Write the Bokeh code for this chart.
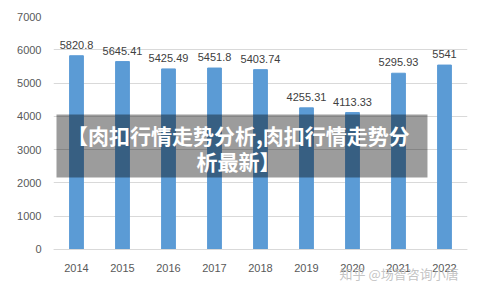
from bokeh.plotting import figure
from bokeh.models import Range1d, FixedTicker, ColumnDataSource, BoxAnnotation, Label
from bokeh.embed import file_html
from bokeh.resources import INLINE
from bokeh.core.properties import value

years = ["2014", "2015", "2016", "2017", "2018", "2019", "2020", "2021", "2022"]
prices = [5820.8, 5645.41, 5425.49, 5451.8, 5403.74, 4255.31, 4113.33, 5295.93, 5541]
price_labels = ["5820.8", "5645.41", "5425.49", "5451.8", "5403.74", "4255.31", "4113.33", "5295.93", "5541"]
y_ticks = [0, 1000, 2000, 3000, 4000, 5000, 6000, 7000]
title_lines = ["【肉扣行情走势分析,肉扣行情走势分", "析最新】"]
watermark = "知乎 @场智咨询小唐"

xs = list(range(len(years)))
src = ColumnDataSource(dict(x=xs, top=prices, label=price_labels))

p = figure(width=484, height=292, output_backend="svg", toolbar_location=None,
           x_range=Range1d(-0.5, len(years) - 0.5), y_range=Range1d(-1292, 7000),
           min_border_left=53, min_border_right=17, min_border_top=16, min_border_bottom=0)
p.outline_line_color = None
p.background_fill_color = "white"
p.border_fill_color = "white"

p.vbar(x="x", top="top", width=0.3, bottom=0, color="#5b9bd5", source=src)
p.text(x="x", y="top", text="label", source=src, text_align="center", text_baseline="bottom",
       y_offset=-7, text_font=value("Liberation Sans"), text_font_size="11px", text_color="#404040")

p.xaxis.ticker = FixedTicker(ticks=xs)
p.xaxis.major_label_overrides = {i: y for i, y in enumerate(years)}
p.xaxis.fixed_location = 0
p.yaxis.ticker = FixedTicker(ticks=y_ticks)
for ax in (p.xaxis[0], p.yaxis[0]):
    ax.major_tick_line_color = None
    ax.minor_tick_line_color = None
    ax.major_label_text_font = "Liberation Sans"
    ax.major_label_text_font_size = "11px"
    ax.major_label_text_color = "#595959"
p.yaxis.axis_line_color = None
p.xaxis.axis_line_color = "#d9d9d9"
p.xaxis.major_label_standoff = 9
p.yaxis.major_label_standoff = 6
p.xgrid.grid_line_color = None
p.ygrid.grid_line_color = "#d9d9d9"

p.add_layout(BoxAnnotation(left=-0.435, right=7.63, bottom=2163, top=4055,
                           fill_color="black", fill_alpha=0.39, line_color=None))
p.add_layout(Label(x=3.52, y=3454, text=title_lines[0], text_align="center", text_baseline="middle",
                   text_font="Noto Sans CJK SC", text_font_style="bold", text_font_size="21px",
                   text_color="white"))
p.add_layout(Label(x=3.52, y=2673, text=title_lines[1], text_align="center", text_baseline="middle",
                   text_font="Noto Sans CJK SC", text_font_style="bold", text_font_size="21px",
                   text_color="white"))
p.add_layout(Label(x=286, y=-721, x_units="screen", text=watermark,
                   text_align="left", text_baseline="middle", text_font="Noto Sans CJK SC",
                   text_font_size="13px", text_color="#bdbdbd", text_alpha=0.9))

open("out.html", "w").write(file_html(p, INLINE))
